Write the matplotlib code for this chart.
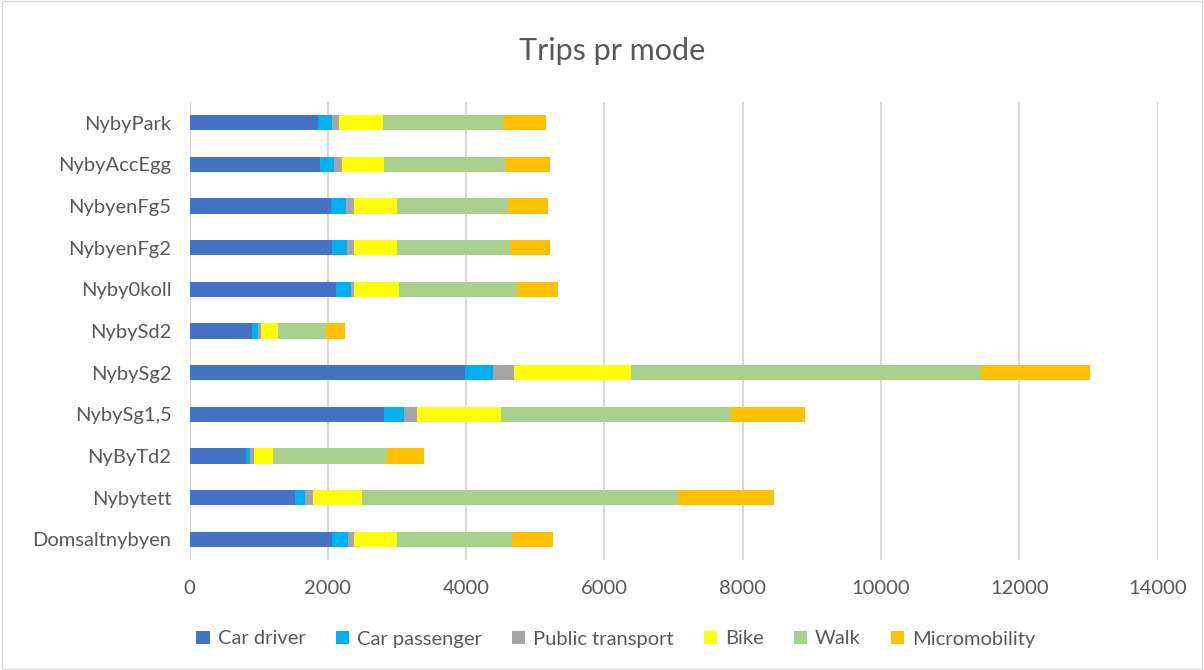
import matplotlib.pyplot as plt
import numpy as np
from matplotlib.patches import Rectangle

# data (bottom row first)
places = ['Domsaltnybyen', 'Nybytett', 'NyByTd2', 'NybySg1,5', 'NybySg2', 'NybySd2',
          'Nyby0koll', 'NybyenFg2', 'NybyenFg5', 'NybyAccEgg', 'NybyPark']
modes = ['Car driver', 'Car passenger', 'Public transport', 'Bike', 'Walk', 'Micromobility']

car_driver = [2068, 1527, 812, 2816, 3990, 899, 2120, 2068, 2053, 1894, 1855]
car_passenger = [226, 140, 67, 281, 401, 87, 213, 207, 208, 193, 200]
public_transport = [83, 120, 49, 193, 295, 48, 49, 102, 116, 120, 100]
bike = [618, 701, 285, 1217, 1695, 251, 647, 618, 618, 609, 650]
walk = [1676, 4571, 1642, 3320, 5060, 696, 1710, 1635, 1618, 1759, 1725]
micromobility = [586, 1393, 536, 1079, 1588, 275, 590, 590, 575, 645, 630]

colors = ['#4472C4', '#00B0F0', '#A5A5A5', '#FFFF00', '#A9D18E', '#FFC000']
series = [car_driver, car_passenger, public_transport, bike, walk, micromobility]

plt.rcParams['font.family'] = ['Lato', 'DejaVu Sans']

fig = plt.figure(figsize=(12.04, 6.70), dpi=100)
ax = fig.add_axes([0.1574, 0.164, 0.804, 0.684])

y = np.arange(len(places))
left = np.zeros(len(places))
for name, vals, c in zip(modes, series, colors):
    ax.barh(y, vals, left=left, height=0.37, color=c, label=name, zorder=3)
    left += np.array(vals)

ax.set_xlim(0, 14000)
ax.set_ylim(-0.5, len(places) - 0.5)
ax.set_xticks(range(0, 14001, 2000))
ax.set_yticks(y)
ax.set_yticklabels(places)
ax.grid(axis='x', color='#d9d9d9', linewidth=1.5, zorder=0)
ax.tick_params(length=0, labelsize=14.5, colors='#595959')
ax.tick_params(axis='y', pad=13)
ax.tick_params(axis='x', pad=14)
for s in ax.spines.values():
    s.set_visible(False)

fig.text(0.508, 0.924, 'Trips pr mode', ha='center', va='center', fontsize=22, color='#595959')

fig.legend(loc='center', bbox_to_anchor=(616 / 1204, 1 - 639 / 670), ncol=6, frameon=False,
           fontsize=14.5, handlelength=0.65, handleheight=0.65, handletextpad=0.4,
           columnspacing=1.5, labelcolor='#595959')

# light chart border like the spreadsheet export
fig.patches.append(Rectangle((0.002, 0.002), 0.996, 0.996, transform=fig.transFigure,
                             fill=False, edgecolor='#d9d9d9', linewidth=1))

fig.savefig('out.png', dpi=100)
